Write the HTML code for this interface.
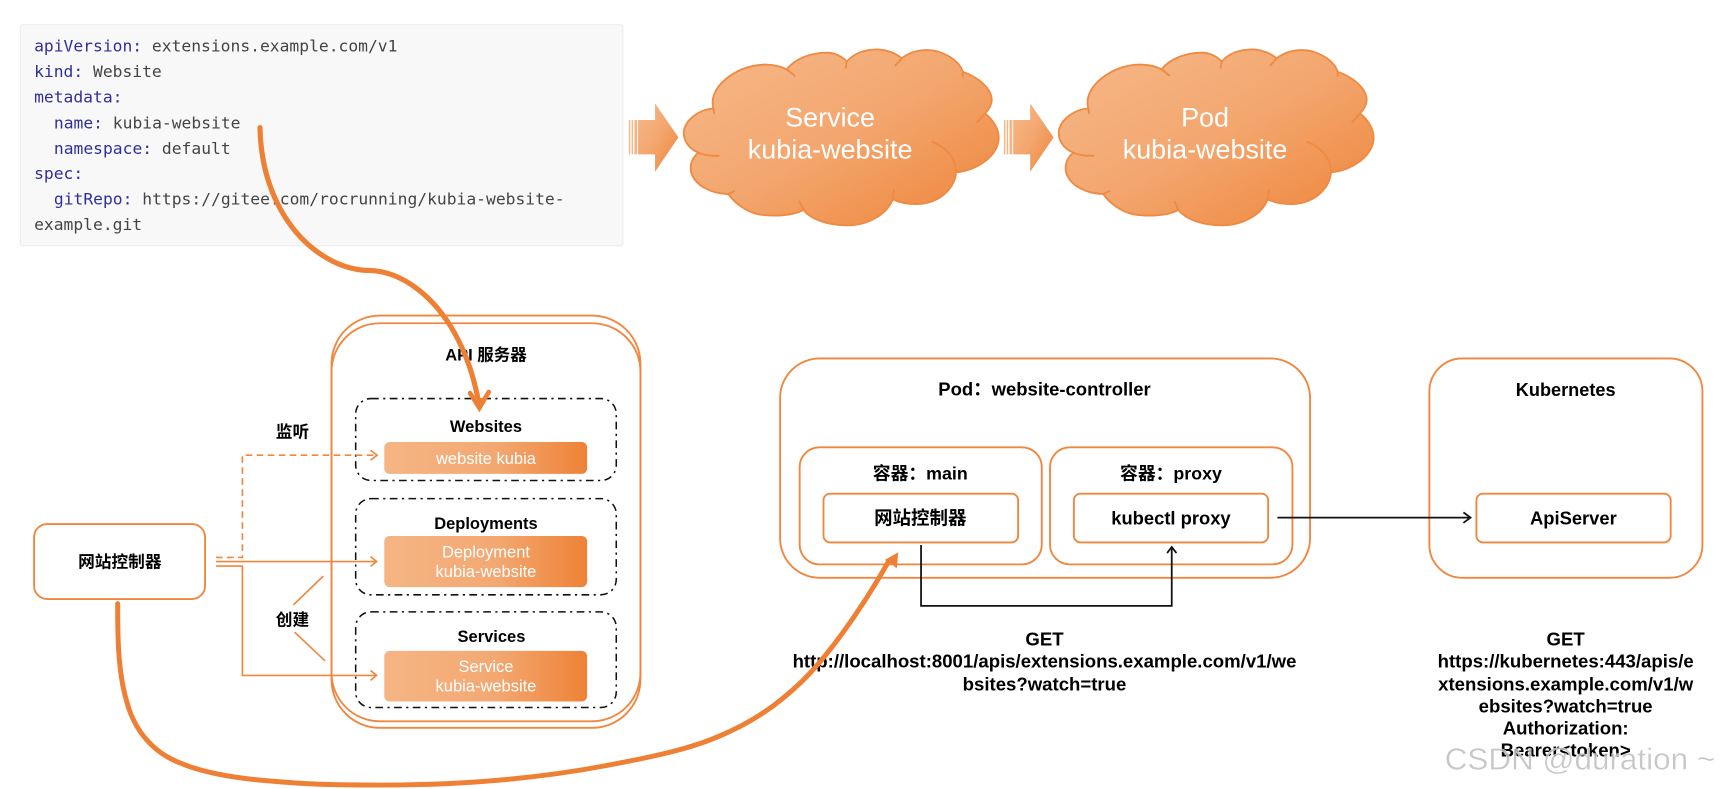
<!DOCTYPE html>
<html><head><meta charset="utf-8"><style>
html,body{margin:0;padding:0;background:#fff;width:1724px;height:789px;overflow:hidden}
svg{display:block}
text{font-family:"Liberation Sans","Noto Sans CJK SC",sans-serif}
.b{font-weight:bold;fill:#000;text-anchor:middle}
.w{fill:#fff;text-anchor:middle;font-size:15px}
.c{font-family:"DejaVu Sans Mono","Liberation Mono",monospace;font-size:14.85px;fill:#444;white-space:pre}
.c tspan{fill:#2f2f9a}
.o{fill:none;stroke:#f0873f;stroke-width:1.7}
.l{fill:none;stroke:#f0873f;stroke-width:1.5}
.d{fill:none;stroke:#111;stroke-width:1.4;stroke-dasharray:7 4 2 4}
.k{fill:none;stroke:#111;stroke-width:1.6}
</style></head><body>
<svg width="1724" height="789" viewBox="0 0 1568 717.6" preserveAspectRatio="none" xmlns="http://www.w3.org/2000/svg">
<defs>
<linearGradient id="g" x1="0" y1="0" x2="1" y2="1"><stop offset="0" stop-color="#f6b98a"/><stop offset=".5" stop-color="#f3a66e"/><stop offset="1" stop-color="#ee8438"/></linearGradient>
<linearGradient id="h" x1="0" y1="0" x2="1" y2="0"><stop offset="0" stop-color="#f5b584"/><stop offset=".55" stop-color="#f3a872"/><stop offset="1" stop-color="#ee8236"/></linearGradient>
<g id="cloud">
<path fill="url(#g)" stroke="#ee8a42" stroke-width="5.500" d="M130,205 C118,160 155,115 215,88 C265,68 315,70 350,88 C375,55 425,38 470,38 C495,38 518,50 530,65 C555,35 590,28 625,28 C655,30 680,42 695,55 C725,30 770,25 805,35 C845,48 870,70 878,95 C925,112 965,145 965,180 C965,195 955,210 945,220 C975,245 990,275 985,305 C975,355 915,392 858,397 C855,440 815,488 745,492 C715,493 690,488 668,478 C650,525 590,557 530,556 C475,555 425,540 400,510 C365,528 310,530 265,523 C225,512 195,490 175,462 C130,462 75,440 63,395 C58,370 70,350 85,338 C55,325 38,300 42,270 C50,235 90,208 130,205 Z"/>
<path fill="none" stroke="#ee8a42" stroke-width="5.500" d="M350,88 L375,108 M530,65 L527,85 M695,55 L675,78 M878,95 L878,110 M945,220 L920,248 M858,397 C858,355 830,322 785,305 M668,478 L672,448 M400,510 L388,483 M175,462 L195,452 M85,338 C100,345 125,348 148,347 M130,205 L133,222"/>
</g>
<g id="arr">
<path fill="url(#g)" d="M170,240 H207 V190 L258,292 L207,395 V343 H170 Z"/>
<path fill="#f5b584" d="M150,240h3v103h-3zM156,240h3v103h-3zM162,240h6v103h-6z"/>
</g>
</defs>

<rect x="18.500" y="22.500" width="548" height="201" rx="2" fill="#f8f8f8" stroke="#ececec"/>
<text class="c" x="31" y="47"><tspan>apiVersion:</tspan> extensions.example.com/v1</text>
<text class="c" x="31" y="70"><tspan>kind:</tspan> Website</text>
<text class="c" x="31" y="93"><tspan>metadata:</tspan></text>
<text class="c" x="49" y="117"><tspan>name:</tspan> kubia-website</text>
<text class="c" x="49" y="140"><tspan>namespace:</tspan> default</text>
<text class="c" x="31" y="163"><tspan>spec:</tspan></text>
<text class="c" x="49" y="186"><tspan>gitRepo:</tspan> https://gitee.com/rocrunning/kubia-website-</text>
<text class="c" x="31" y="209">example.git</text>

<g transform="translate(509.300,36.400) scale(.4177,.3032)"><use href="#arr"/></g>
<g transform="translate(850.500,36.400) scale(.4177,.3032)"><use href="#arr"/></g>
<g transform="translate(609.400,36.400) scale(.3032)"><use href="#cloud"/></g>
<g transform="translate(950.400,36.400) scale(.3032)"><use href="#cloud"/></g>
<text class="w" style="font-size:24.500px" x="755" y="115">Service</text>
<text class="w" style="font-size:24.500px" x="755" y="144">kubia-website</text>
<text class="w" style="font-size:24.500px" x="1096" y="115">Pod</text>
<text class="w" style="font-size:24.500px" x="1096" y="144">kubia-website</text>

<rect class="o" x="301.500" y="287" width="281" height="369" rx="44"/>
<rect class="o" x="301.500" y="294" width="281" height="368" rx="44"/>
<text class="b" style="font-size:15px" x="442" y="328">API 服务器</text>

<rect class="d" x="323.500" y="362.500" width="237" height="74.500" rx="14"/>
<rect class="d" x="323.500" y="453.500" width="237" height="87.500" rx="14"/>
<rect class="d" x="323.500" y="556.500" width="237" height="87" rx="14"/>
<text class="b" style="font-size:15px" x="442" y="393">Websites</text>
<text class="b" style="font-size:15px" x="442" y="481">Deployments</text>
<text class="b" style="font-size:15px" x="447" y="584">Services</text>
<rect x="349.500" y="402" width="184.500" height="29" rx="5" fill="url(#h)"/>
<rect x="349.500" y="487.500" width="184.500" height="46.500" rx="5" fill="url(#h)"/>
<rect x="349.500" y="592" width="184.500" height="46" rx="5" fill="url(#h)"/>
<text class="w" x="442" y="422">website kubia</text>
<text class="w" x="442" y="507">Deployment</text>
<text class="w" x="442" y="525">kubia-website</text>
<text class="w" x="442" y="611">Service</text>
<text class="w" x="442" y="629">kubia-website</text>

<rect class="o" x="31" y="476.600" width="155.500" height="68.200" rx="12"/>
<text class="b" style="font-size:15.200px" x="109" y="516">网站控制器</text>
<path class="l" stroke-dasharray="6 4" d="M196.500,507 H220.500 V414 H342"/>
<path class="l" d="M337,409.500 L343,414 L337,418.500"/>
<path class="l" d="M196.500,510.700 H342 M337,506.200 L342.500,510.700 L337,515.200"/>
<path class="l" d="M196.500,514.800 H220.500 V614.300 H342 M337,609.800 L342.500,614.300 L337,618.800"/>
<path class="l" d="M294,524 L267,550 M268,575 L295.600,601"/>
<text class="b" style="font-size:15.200px" x="266" y="398">监听</text>
<text class="b" style="font-size:15.200px" x="266" y="569">创建</text>

<rect class="o" x="709.500" y="326" width="482" height="199.500" rx="36"/>
<rect class="o" x="727.300" y="406.800" width="220.200" height="106.500" rx="18"/>
<rect class="o" x="955" y="406.800" width="220.500" height="106.500" rx="18"/>
<rect class="o" x="749" y="449" width="177" height="44.300" rx="6"/>
<rect class="o" x="976.700" y="449" width="176.700" height="44.300" rx="6"/>
<text class="b" style="font-size:16.800px" x="950" y="359.500">Pod：website-controller</text>
<text class="b" style="font-size:16.200px" x="837" y="436">容器：main</text>
<text class="b" style="font-size:16.200px" x="1065" y="436">容器：proxy</text>
<text class="b" style="font-size:16.800px" x="837" y="477">网站控制器</text>
<text class="b" style="font-size:16.700px" x="1065" y="477">kubectl proxy</text>

<rect class="o" x="1300" y="326" width="248.400" height="199.500" rx="30"/>
<rect class="o" x="1342.800" y="449" width="176.700" height="44.300" rx="6"/>
<text class="b" style="font-size:16.500px" x="1424" y="360">Kubernetes</text>
<text class="b" style="font-size:16.700px" x="1431" y="477">ApiServer</text>

<path class="k" d="M837.700,495.700 V551 H1065.700 V498 M1061.500,503 L1065.700,497.500 L1070,503"/>
<path class="k" d="M1161.800,470.800 H1337 M1331,466 L1337.500,470.800 L1331,475.500"/>

<g class="b" style="font-size:16.900px">
<text class="b" x="950" y="587">GET</text>
<text class="b" x="950" y="607">http://localhost:8001/apis/extensions.example.com/v1/we</text>
<text class="b" x="950" y="628">bsites?watch=true</text>
<text class="b" x="1424" y="587">GET</text>
<text class="b" x="1424" y="607">https://kubernetes:443/apis/e</text>
<text class="b" x="1424" y="628">xtensions.example.com/v1/w</text>
<text class="b" x="1424" y="648">ebsites?watch=true</text>
<text class="b" x="1424" y="668">Authorization:</text>
<text class="b" x="1424" y="688">Bearer&lt;token&gt;</text>
</g>

<path fill="none" stroke="#ee8035" stroke-width="4.700" stroke-linecap="round" d="M236.500,116 C237,150 247,185 270,212 C290,235 315,246 336.500,246 C365,247 392,268 410,297 C424,320 432,345 436,370"/>
<path fill="none" stroke="#ee8035" stroke-width="4.200" stroke-linecap="round" d="M427.500,357.500 L436,371 L444.500,356.500"/>
<path fill="#ee8035" d="M436,374.400 L431,362 H441 Z"/>
<path fill="none" stroke="#ee8035" stroke-width="4.500" stroke-linecap="round" d="M107,549 C107,575 107,610 115,637 C122,665 140,685 164,694 C190,705 225,709 254,711 C290,714 320,714 349,714 C420,714 490,708 553,696 C590,689 625,682 653,670 C685,657 708,640 728,621 C750,600 780,560 808,511"/>
<path fill="#ee8035" d="M817,502.300 L804.600,509.300 L810,512 L815.600,517 Z"/>

<text x="1314" y="700" textLength="246" lengthAdjust="spacingAndGlyphs" style="font-size:28px;fill:#bdbdbd;fill-opacity:.85;stroke:#fff;stroke-width:.3">CSDN @duration ~</text>
</svg>
</body></html>
